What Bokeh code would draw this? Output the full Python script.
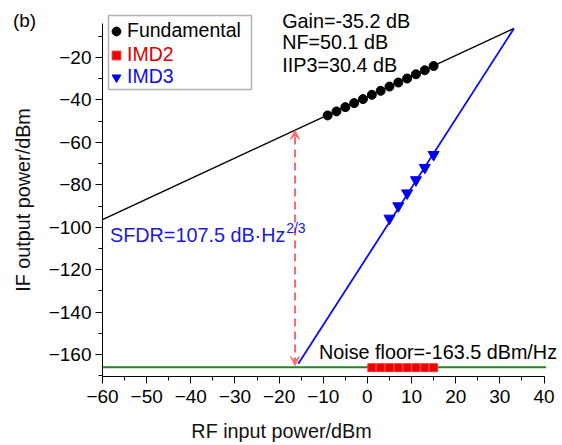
from bokeh.plotting import figure
from bokeh.models import (Range1d, SingleIntervalTicker, Label, Legend, LegendItem,
                          Arrow, VeeHead, BoxAnnotation, ColumnDataSource)
from bokeh.embed import file_html
from bokeh.resources import INLINE

# ---- data ----
fund_x = [-9, -7, -5, -3, -1, 1, 3, 5, 7, 9, 11, 13, 15]
fund_y = [-47.3, -45.4, -43.4, -41.5, -39.6, -37.6, -35.7, -33.7, -31.8, -29.9, -27.9, -26.0, -24.0]
fund_line_x = [-60, 33.2]
fund_line_y = [-96.4, -6.3]

imd2_x = [1, 3, 5, 7, 9, 11, 13, 15]
imd2_y = [-166.2, -166.2, -166.2, -166.2, -166.2, -166.2, -166.2, -166.2]

imd3_x = [5, 7, 9, 11, 13, 15]
imd3_y = [-95.8, -90.0, -83.9, -77.7, -71.9, -65.8]
imd3_line_x = [-15.65, 33.2]
imd3_line_y = [-164.4, -6.3]

noise_x = [-60, 40.45]
noise_y = [-166.0, -166.0]

sfdr_x = -16.4
sfdr_top = -54.4
sfdr_bottom = -165.2

x_ticks_range = (-60, 40)
y_axis_range = (-170.4, -4.2)

FONT = "Liberation Sans"

p = figure(width=562, height=445, output_backend="svg", toolbar_location=None,
           x_range=Range1d(-83.103, 44.19), y_range=Range1d(-170.37, 5.93),
           min_border_left=0, min_border_right=0, min_border_top=2, min_border_bottom=69)
p.outline_line_color = None
p.xgrid.visible = False
p.ygrid.visible = False
p.background_fill_color = "white"
p.border_fill_color = "white"

p.xaxis.ticker = SingleIntervalTicker(interval=10, num_minor_ticks=2)
p.yaxis.ticker = SingleIntervalTicker(interval=20, num_minor_ticks=2)
p.xaxis.bounds = x_ticks_range
p.yaxis.bounds = y_axis_range
p.yaxis.fixed_location = -60
for ax in (p.xaxis[0], p.yaxis[0]):
    ax.axis_line_color = "black"
    ax.axis_line_width = 1
    ax.major_tick_line_color = "black"
    ax.minor_tick_line_color = "black"
    ax.major_tick_in = 0
    ax.major_tick_out = 7
    ax.minor_tick_in = 0
    ax.minor_tick_out = 4
    ax.major_label_text_font = FONT
    ax.major_label_text_font_size = "19px"
    ax.major_label_text_color = "black"
    ax.axis_label_text_font = FONT
    ax.axis_label_text_font_size = "19.8px"
    ax.axis_label_text_font_style = "normal"
    ax.axis_label_text_color = "#111111"
p.xaxis.axis_label = "RF input power/dBm"
p.yaxis.axis_label = "IF output power/dBm"
p.xaxis.major_label_standoff = 6
p.xaxis.axis_label_standoff = 14
p.yaxis.major_label_standoff = 4
p.yaxis.axis_label_standoff = 12

# lines
p.line(noise_x, noise_y, line_color="#1a8a1a", line_width=2)
p.line(fund_line_x, fund_line_y, line_color="black", line_width=1.5)
p.line(imd3_line_x, imd3_line_y, line_color="#0a0aff", line_width=1.8)

# markers
r_fund = p.scatter(fund_x, fund_y, marker="circle", size=9, fill_color="black", line_color="black")
r_imd2 = p.scatter(imd2_x, imd2_y, marker="square", size=8, fill_color="#ee0000", line_color="#ff3333")
r_imd3 = p.scatter(imd3_x, imd3_y, marker="inverted_triangle", size=11, fill_color="#0000ee", line_color="#0000ee")

# SFDR arrow
asrc = ColumnDataSource(dict(x0=[sfdr_x], y0=[sfdr_bottom], x1=[sfdr_x], y1=[sfdr_top]))
p.add_layout(Arrow(x_start="x0", y_start="y0", x_end="x1", y_end="y1", source=asrc,
                   line_color="#ff6b6b", line_width=2, line_dash="8 5",
                   end=VeeHead(size=9, fill_color="#ff6b6b", line_color="#ff6b6b"),
                   start=VeeHead(size=9, fill_color="#ff6b6b", line_color="#ff6b6b")))

# legends (one per entry so each label keeps its colour)
def add_leg(label, rend, color, vy):
    leg = Legend(items=[LegendItem(label=label, renderers=[rend])], location=(105, vy),
                 border_line_color=None, background_fill_alpha=0, padding=0, margin=0,
                 spacing=0, glyph_width=22, glyph_height=22, label_standoff=0,
                 label_text_font=FONT, label_text_font_size="19.5px", label_text_color=color,
                 label_height=22)
    p.add_layout(leg)

add_leg("Fundamental", r_fund, "black", 334)
add_leg("IMD2", r_imd2, "#dd0000", 310)
add_leg("IMD3", r_imd3, "#1010e0", 288)
p.add_layout(BoxAnnotation(left=108, right=251, top=15, bottom=89,
                           left_units="canvas", right_units="canvas",
                           top_units="canvas", bottom_units="canvas",
                           fill_alpha=0, line_color="black", line_width=1.5))

def lab(x, y, t, color="black", size="19.8px"):
    p.add_layout(Label(x=x, y=y, text=t, text_font=FONT, text_font_size=size,
                       text_color=color, text_baseline="middle", text_align="left"))

lab(-80.3, -2.6, "(b)", size="19px")
lab(-19.3, -2.6, "Gain=-35.2 dB")
lab(-19.3, -12.9, "NF=50.1 dB")
lab(-19.3, -23.7, "IIP3=30.4 dB")
lab(-10.96, -158.6, "Noise floor=-163.5 dBm/Hz")
lab(-58.3, -103.9, "SFDR=107.5 dB\u00b7Hz", color="#1a1ad8")
lab(-18.4, -100.6, "2/3", color="#1a1ad8", size="14px")

open("out.html", "w").write(file_html(p, INLINE))
